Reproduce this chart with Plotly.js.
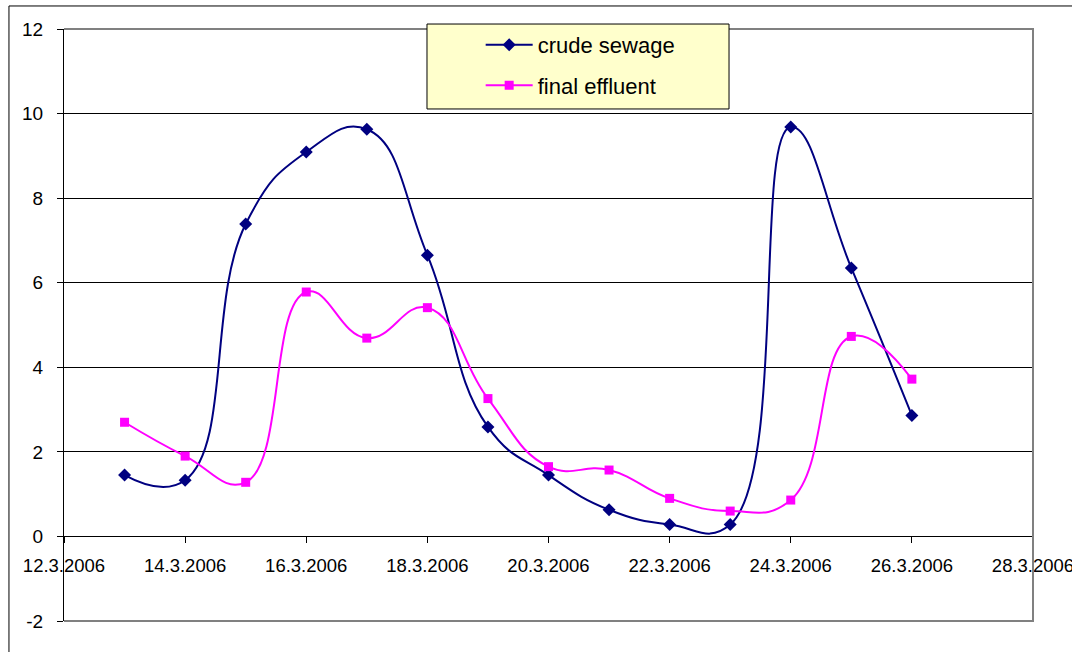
<!DOCTYPE html>
<html>
<head>
<meta charset="utf-8">
<script src="https://cdn.plot.ly/plotly-3.0.1.min.js"></script>
<style>
  html, body { margin: 0; padding: 0; background: #ffffff; }
  #chart { width: 1072px; height: 652px; }
</style>
</head>
<body>
<div id="chart"></div>
<script>
// Sampling dates (daily, 13–26 March 2006)
const sampleDates = [
  '2006-03-13', '2006-03-14', '2006-03-15', '2006-03-16', '2006-03-17',
  '2006-03-18', '2006-03-19', '2006-03-20', '2006-03-21', '2006-03-22',
  '2006-03-23', '2006-03-24', '2006-03-25', '2006-03-26'
];

// Measured values
const crudeSewage = [1.45, 1.33, 7.39, 9.09, 9.63, 6.65, 2.59, 1.45, 0.63, 0.28, 0.28, 9.68, 6.35, 2.86];
const finalEffluent = [2.7, 1.9, 1.28, 5.78, 4.69, 5.41, 3.26, 1.65, 1.57, 0.9, 0.6, 0.86, 4.73, 3.72];

// Axis ticks
const xTickDates = [
  '2006-03-12', '2006-03-14', '2006-03-16', '2006-03-18', '2006-03-20',
  '2006-03-22', '2006-03-24', '2006-03-26', '2006-03-28'
];
const xTickLabels = [
  '12.3.2006', '14.3.2006', '16.3.2006', '18.3.2006', '20.3.2006',
  '22.3.2006', '24.3.2006', '26.3.2006', '28.3.2006'
];
const yTickValues = [-2, 0, 2, 4, 6, 8, 10, 12];
const yTickLabels = ['-2', '0', '2', '4', '6', '8', '10', '12'];

const FONT = '"Liberation Sans", Arial, sans-serif';

const traces = [
  {
    name: 'crude sewage',
    x: sampleDates,
    y: crudeSewage,
    type: 'scatter',
    mode: 'lines+markers',
    legendgroup: 'a',
    line: { color: '#000080', width: 2, shape: 'spline', smoothing: 1.3 },
    marker: { symbol: 'diamond', size: 10, color: '#000080' }
  },
  {
    name: 'final effluent',
    x: sampleDates,
    y: finalEffluent,
    type: 'scatter',
    mode: 'lines+markers',
    legendgroup: 'b',
    line: { color: '#FF00FF', width: 2, shape: 'spline', smoothing: 1.3 },
    marker: { symbol: 'square', size: 9, color: '#FF00FF' }
  }
];

const layout = {
  width: 1072,
  height: 652,
  margin: { l: 64, r: 39, t: 29, b: 31 },
  paper_bgcolor: '#ffffff',
  plot_bgcolor: '#ffffff',
  font: { family: FONT, size: 18, color: '#000000' },
  showlegend: true,
  legend: {
    x: 0.43, xanchor: 'left',
    y: 1.0086, yanchor: 'top',
    bgcolor: 'rgba(0,0,0,0)',
    borderwidth: 0,
    traceorder: 'grouped',
    tracegroupgap: 9,
    itemwidth: 47,
    font: { family: FONT, size: 22, color: '#000000' }
  },
  xaxis: {
    type: 'date',
    range: ['2006-03-12', '2006-03-28'],
    anchor: 'free',
    position: 2 / 14,
    tickmode: 'array',
    tickvals: xTickDates,
    ticktext: xTickLabels,
    ticks: 'outside',
    ticklen: 6,
    tickcolor: '#000000',
    ticklabelstandoff: 6,
    ticklabeloverflow: 'allow',
    showline: true,
    linecolor: '#000000',
    linewidth: 1,
    showgrid: false,
    zeroline: false,
    tickfont: { family: FONT, size: 18.5, color: '#000000' },
    fixedrange: true
  },
  yaxis: {
    range: [-2, 12],
    tickmode: 'array',
    tickvals: yTickValues,
    ticktext: yTickLabels,
    ticks: 'outside',
    ticklen: 6,
    tickcolor: '#000000',
    ticklabelstandoff: 10,
    showline: true,
    linecolor: '#000000',
    linewidth: 1,
    showgrid: true,
    gridcolor: '#000000',
    gridwidth: 1,
    zeroline: false,
    tickfont: { family: FONT, size: 19, color: '#000000' },
    fixedrange: true
  },
  shapes: [
    // plot-area frame (top, right, bottom)
    {
      type: 'path', xref: 'paper', yref: 'paper', layer: 'above',
      path: 'M 0 1 L 1 1 L 1 0 L 0 0',
      line: { color: '#808080', width: 2 }
    },
    // chart-area frame
    {
      type: 'rect', xref: 'paper', yref: 'paper', layer: 'below',
      x0: -0.0568, x1: 1.2, y0: -0.2, y1: 1.0389,
      line: { color: '#000000', width: 1 }
    },
    // legend box
    {
      type: 'rect', xref: 'paper', yref: 'paper', layer: 'above',
      x0: 0.3746, x1: 0.6863, y0: 0.8649, y1: 1.0084,
      fillcolor: '#FFFFCC',
      line: { color: '#000000', width: 1 }
    }
  ]
};

Plotly.newPlot('chart', traces, layout, { displayModeBar: false, staticPlot: true });
</script>
</body>
</html>
